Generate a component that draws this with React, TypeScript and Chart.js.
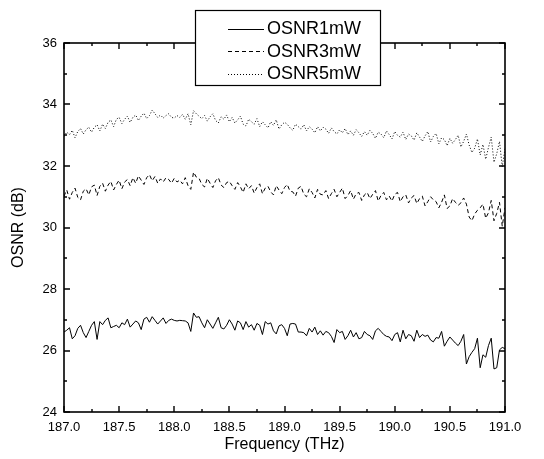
import React, { useEffect, useRef } from 'react';
import { Chart, registerables } from 'chart.js';

Chart.register(...registerables);

// Sampling grid of the frequency axis (THz)
const FREQ_START = 187.0;
const FREQ_STEP = 0.025;

const seriesLabels = ['OSNR1mW', 'OSNR3mW', 'OSNR5mW'];

const osnr1mW = [
  26.60, 26.66, 26.74, 26.38, 26.48, 26.72, 26.82, 26.58, 26.42, 26.62,
  26.82, 26.94, 26.36, 26.94, 26.84, 26.98, 27.06, 26.74, 26.78, 26.82,
  26.74, 26.90, 26.84, 27.02, 26.76, 26.86, 26.96, 26.90, 26.68, 27.02,
  27.08, 26.92, 27.10, 26.98, 26.86, 26.96, 27.06, 26.88, 26.98, 27.02,
  26.98, 26.96, 26.98, 26.97, 26.96, 26.90, 26.62, 27.22, 27.08, 27.10,
  26.90, 26.74, 27.00, 26.86, 26.72, 26.90, 27.08, 26.74, 26.70, 26.82,
  27.00, 26.86, 26.66, 26.96, 26.90, 26.68, 26.94, 26.76, 26.84, 26.66,
  26.88, 26.82, 26.52, 26.94, 26.86, 26.90, 26.64, 26.54, 26.80, 26.84,
  26.72, 26.48, 26.86, 26.88, 26.86, 26.60, 26.60, 26.58, 26.48, 26.72,
  26.60, 26.76, 26.52, 26.64, 26.50, 26.62, 26.58, 26.46, 26.26, 26.68,
  26.58, 26.62, 26.36, 26.48, 26.66, 26.44, 26.58, 26.38, 26.42, 26.62,
  26.52, 26.48, 26.36, 26.64, 26.72, 26.62, 26.52, 26.46, 26.44, 26.32,
  26.52, 26.58, 26.28, 26.66, 26.38, 26.52, 26.48, 26.30, 26.66, 26.42,
  26.52, 26.46, 26.50, 26.34, 26.28, 26.42, 26.40, 26.62, 26.14, 26.30,
  26.44, 26.34, 26.24, 26.16, 26.30, 26.52, 25.56, 25.80, 25.94, 26.06,
  26.40, 25.44, 25.86, 25.78, 26.16, 26.40, 25.40, 25.44, 26.02, 26.10,
  26.06,
];

const osnr3mW = [
  31.02, 31.22, 30.92, 31.14, 31.28, 30.98, 30.90, 31.18, 31.26, 31.06,
  31.32, 31.38, 31.04, 31.34, 31.44, 31.18, 31.38, 31.50, 31.22, 31.40,
  31.54, 31.26, 31.48, 31.56, 31.36, 31.62, 31.44, 31.68, 31.54, 31.40,
  31.62, 31.72, 31.52, 31.66, 31.44, 31.58, 31.48, 31.62, 31.56, 31.44,
  31.60, 31.48, 31.54, 31.42, 31.62, 31.36, 31.24, 31.80, 31.64, 31.60,
  31.40, 31.32, 31.60, 31.44, 31.30, 31.52, 31.62, 31.38, 31.30, 31.46,
  31.50, 31.36, 31.24, 31.46, 31.32, 31.14, 31.42, 31.26, 31.36, 31.12,
  31.30, 31.42, 31.10, 31.28, 31.34, 31.16, 31.06, 31.36, 31.22, 31.10,
  31.30, 31.40, 31.18, 31.16, 31.02, 31.28, 31.34, 31.08, 31.00, 31.26,
  31.14, 30.96, 31.24, 31.08, 31.06, 31.20, 30.94, 31.10, 31.24, 31.00,
  31.14, 31.28, 30.94, 31.04, 31.20, 30.92, 31.10, 31.14, 30.88, 31.06,
  31.14, 30.94, 31.08, 31.20, 30.86, 31.04, 31.14, 30.90, 31.02, 30.86,
  31.08, 31.14, 30.84, 31.00, 31.06, 30.80, 30.96, 31.04, 30.78, 30.94,
  31.02, 30.70, 30.84, 31.00, 30.90, 30.84, 30.64, 30.82, 31.06, 30.62,
  30.70, 30.94, 30.82, 30.72, 30.80, 30.96, 30.76, 30.34, 30.22, 30.44,
  30.56, 30.64, 30.76, 30.30, 30.48, 30.88, 30.22, 30.46, 30.82, 30.04,
  30.64,
];

const osnr5mW = [
  32.96, 33.10, 33.02, 33.16, 32.92, 33.12, 33.22, 33.04, 33.18, 33.26,
  33.10, 33.26, 33.34, 33.14, 33.36, 33.22, 33.42, 33.50, 33.28, 33.52,
  33.58, 33.38, 33.52, 33.62, 33.42, 33.58, 33.66, 33.48, 33.62, 33.72,
  33.54, 33.64, 33.82, 33.70, 33.58, 33.66, 33.56, 33.64, 33.70, 33.58,
  33.56, 33.64, 33.58, 33.68, 33.52, 33.70, 33.34, 33.80, 33.70, 33.62,
  33.54, 33.64, 33.46, 33.60, 33.70, 33.48, 33.40, 33.60, 33.52, 33.66,
  33.44, 33.58, 33.40, 33.50, 33.62, 33.36, 33.30, 33.52, 33.44, 33.36,
  33.54, 33.28, 33.44, 33.34, 33.24, 33.44, 33.32, 33.50, 33.20, 33.34,
  33.42, 33.36, 33.24, 33.16, 33.36, 33.28, 33.20, 33.34, 33.14, 33.28,
  33.20, 33.08, 33.28, 33.14, 33.26, 33.20, 33.06, 33.24, 33.12, 33.04,
  33.18, 33.08, 33.22, 33.02, 33.14, 33.00, 33.18, 33.08, 32.96, 33.12,
  33.00, 33.16, 33.06, 32.90, 33.10, 33.04, 32.92, 33.14, 33.02, 32.88,
  33.12, 33.00, 32.94, 33.10, 32.86, 33.04, 32.98, 32.84, 33.08, 32.94,
  32.80, 32.98, 33.12, 32.78, 32.96, 33.06, 32.72, 32.92, 32.86, 32.66,
  32.90, 32.74, 32.86, 33.00, 32.62, 32.80, 33.04, 32.68, 32.44, 32.58,
  32.88, 32.36, 32.70, 32.22, 32.60, 32.94, 32.12, 32.40, 32.80, 31.98,
  32.56,
];

const xTickLabels = ['187.0', '187.5', '188.0', '188.5', '189.0', '189.5', '190.0', '190.5', '191.0'];
const yTickLabels = ['24', '26', '28', '30', '32', '34', '36'];

const X_MIN = 187.0;
const X_MAX = 191.0;
const Y_MIN = 24;
const Y_MAX = 36;

const FONT = '"Liberation Sans", Arial, Helvetica, sans-serif';

const toPoints = (vals: number[]) =>
  vals.map((v, i) => ({ x: FREQ_START + i * FREQ_STEP, y: v }));

const framePlugin = {
  id: 'frameTicks',
  afterDatasetsDraw(chart: any) {
    const { ctx, chartArea: a, scales } = chart;
    const xs = scales.x;
    const ys = scales.y;
    ctx.save();
    ctx.strokeStyle = '#000';
    ctx.lineWidth = 1.6;
    ctx.strokeRect(a.left, a.top, a.right - a.left, a.bottom - a.top);
    ctx.lineWidth = 1.4;
    ctx.beginPath();
    // x ticks: major every 0.5, minor every 0.25
    const xStepMinor = 0.25;
    const nx = Math.round((X_MAX - X_MIN) / xStepMinor);
    for (let i = 0; i <= nx; i++) {
      const px = Math.round(xs.getPixelForValue(X_MIN + i * xStepMinor));
      const len = i % 2 === 0 ? 6 : 3;
      ctx.moveTo(px, a.bottom);
      ctx.lineTo(px, a.bottom - len);
      ctx.moveTo(px, a.top);
      ctx.lineTo(px, a.top + len);
    }
    // y ticks: major every 2, minor every 1
    const ny = Y_MAX - Y_MIN;
    for (let i = 0; i <= ny; i++) {
      const py = Math.round(ys.getPixelForValue(Y_MIN + i));
      const len = i % 2 === 0 ? 6 : 3;
      ctx.moveTo(a.left, py);
      ctx.lineTo(a.left + len, py);
      ctx.moveTo(a.right, py);
      ctx.lineTo(a.right - len, py);
    }
    ctx.stroke();
    ctx.restore();
  },
};

const legendPlugin = {
  id: 'boxLegend',
  afterDraw(chart: any) {
    const { ctx } = chart;
    const boxX = 195;
    const boxY = 10;
    const boxW = 185;
    const boxH = 75;
    ctx.save();
    ctx.fillStyle = '#fff';
    ctx.fillRect(boxX, boxY, boxW, boxH);
    ctx.strokeStyle = '#000';
    ctx.lineWidth = 1.2;
    ctx.strokeRect(boxX + 0.5, boxY + 0.5, boxW, boxH);
    ctx.font = `18px ${FONT}`;
    ctx.textBaseline = 'middle';
    ctx.fillStyle = '#000';
    chart.data.datasets.forEach((ds: any, i: number) => {
      const y = boxY + 18.5 + i * 22.5;
      ctx.beginPath();
      ctx.setLineDash(ds.borderDash || []);
      ctx.lineWidth = 1;
      ctx.moveTo(228, Math.round(y) + 0.5);
      ctx.lineTo(264, Math.round(y) + 0.5);
      ctx.stroke();
      ctx.setLineDash([]);
      ctx.fillText(ds.label, 267, y + 1);
    });
    ctx.restore();
  },
};

export default function App() {
  const ref = useRef<HTMLCanvasElement>(null);

  useEffect(() => {
    document.body.style.margin = '0';
    const canvas = ref.current!;
    const chart = new Chart(canvas, {
      type: 'line',
      data: {
        datasets: [
          {
            label: seriesLabels[0],
            data: toPoints(osnr1mW),
            borderColor: '#000',
            borderWidth: 1,
            pointRadius: 0,
            tension: 0,
            fill: false,
          },
          {
            label: seriesLabels[1],
            data: toPoints(osnr3mW),
            borderColor: '#000',
            borderWidth: 1,
            borderDash: [4, 3],
            pointRadius: 0,
            tension: 0,
            fill: false,
          },
          {
            label: seriesLabels[2],
            data: toPoints(osnr5mW),
            borderColor: '#000',
            borderWidth: 1,
            borderDash: [1, 2],
            pointRadius: 0,
            tension: 0,
            fill: false,
          },
        ],
      },
      options: {
        responsive: false,
        animation: false,
        events: [],
        layout: { padding: { top: 43, right: 39, left: 0, bottom: 0 } },
        plugins: {
          legend: { display: false },
          tooltip: { enabled: false },
        },
        scales: {
          x: {
            type: 'linear',
            min: X_MIN,
            max: X_MAX,
            grid: { display: false, drawTicks: false },
            border: { display: false },
            ticks: {
              stepSize: 0.5,
              autoSkip: false,
              maxRotation: 0,
              padding: 8,
              color: '#000',
              font: { family: FONT, size: 13 },
              callback: (v: any) => {
                const idx = Math.round((Number(v) - X_MIN) / 0.5);
                return xTickLabels[idx] ?? '';
              },
            },
            title: {
              display: true,
              text: 'Frequency (THz)',
              color: '#000',
              font: { family: FONT, size: 16 },
              padding: { top: 0, bottom: 5 },
            },
            afterFit: (s: any) => {
              s.height = 47;
            },
          },
          y: {
            type: 'linear',
            min: Y_MIN,
            max: Y_MAX,
            grid: { display: false, drawTicks: false },
            border: { display: false },
            ticks: {
              stepSize: 2,
              padding: 7,
              color: '#000',
              font: { family: FONT, size: 13 },
              callback: (v: any) => {
                const idx = Math.round((Number(v) - Y_MIN) / 2);
                return yTickLabels[idx] ?? '';
              },
            },
            title: {
              display: true,
              text: 'OSNR (dB)',
              color: '#000',
              font: { family: FONT, size: 16 },
              padding: { top: 9, bottom: 0 },
            },
            afterFit: (s: any) => {
              s.width = 64;
            },
          },
        },
      },
      plugins: [framePlugin, legendPlugin],
    });
    return () => chart.destroy();
  }, []);

  return (
    <div style={{ width: 544, height: 459 }}>
      <canvas ref={ref} width={544} height={459} style={{ display: 'block' }} />
    </div>
  );
}
